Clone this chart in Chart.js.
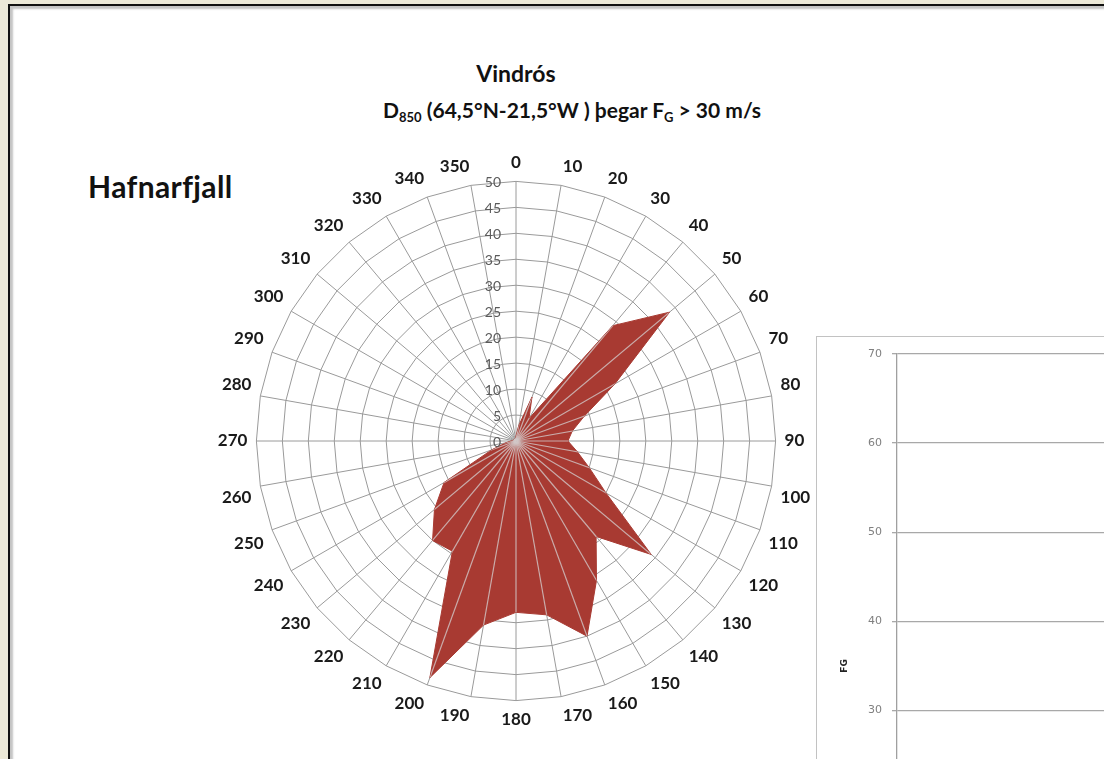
<!DOCTYPE html>
<html>
<head>
<meta charset="utf-8">
<script src="https://cdn.jsdelivr.net/npm/chart.js@4/dist/chart.umd.min.js"></script>
<style>
  html, body { margin: 0; padding: 0; }
  body { width: 1104px; height: 759px; overflow: hidden; background: #ece9d8; position: relative; font-family: Lato, sans-serif; }
  #frame { position: absolute; left: 8px; top: 4px; width: 1200px; height: 900px; background: #fff;
           border-left: 2px solid #111; border-top: 2px solid #111; box-shadow: inset 3px 3px 2px #c4c4c4; }
  .txt { position: absolute; color: #111; font-weight: bold; white-space: nowrap; }
  #title { left: 416px; width: 200px; top: 59px; text-align: center; font-size: 23px; }
  #subtitle { left: 383px; top: 97px; font-size: 21px; }
  #subtitle sub { font-size: 13px; vertical-align: -4px; }
  #station { left: 88px; top: 168px; font-size: 30px; letter-spacing: 0.4px; }
  #rose { position: absolute; left: 176px; top: 152px; }
  #gustBox { position: absolute; left: 816px; top: 336px; width: 400px; height: 700px; border: 1px solid #c2c2c2; border-right: none; border-bottom: none; }
  #gust { position: absolute; left: 0; top: 0; }
</style>
</head>
<body>
<div id="frame"></div>
<div class="txt" id="title">Vindrós</div>
<div class="txt" id="subtitle">D<sub>850</sub> (64,5°N-21,5°W ) þegar F<sub>G</sub> &gt; 30 m/s</div>
<div class="txt" id="station">Hafnarfjall</div>
<canvas id="rose" width="680" height="579"></canvas>
<div id="gustBox"><canvas id="gust" width="400" height="671"></canvas></div>
<script>
// wind directions (degrees) and frequency per sector
const directions = ['0', '10', '20', '30', '40', '50', '60', '70', '80', '90', '100', '110',
  '120', '130', '140', '150', '160', '170', '180', '190', '200', '210', '220', '230',
  '240', '250', '260', '270', '280', '290', '300', '310', '320', '330', '340', '350'];
const frequency = [1, 3, 9, 5, 29, 38.6, 22, 14, 11, 10, 12, 15,
  20, 34, 24, 31, 40, 34, 33, 36, 48.5, 24.5, 25, 20.5,
  16, 5, 2, 1, 0.5, 0.5, 0.5, 0.5, 0.5, 0.5, 0.5, 0.5];
const radialMax = 50;
const radialStep = 5;

// gust speed panel (y axis only)
const gustTicksMax = 70;
const gustTicksStep = 10;
const gustPoints = [];

Chart.defaults.font.family = 'Lato, sans-serif';

// light spokes drawn over the filled area
const spokeOverlay = {
  id: 'spokeOverlay',
  afterDatasetsDraw(chart) {
    const s = chart.scales.r;
    const pts = chart.getDatasetMeta(0).data;
    const ctx = chart.ctx;
    ctx.save();
    ctx.beginPath();
    pts.forEach((p, i) => i ? ctx.lineTo(p.x, p.y) : ctx.moveTo(p.x, p.y));
    ctx.closePath();
    ctx.clip();
    ctx.strokeStyle = 'rgba(210,200,200,0.8)';
    ctx.lineWidth = 1.2;
    pts.forEach((p, i) => {
      const end = s.getPointPosition(i, s.drawingArea);
      ctx.beginPath();
      ctx.moveTo(s.xCenter, s.yCenter);
      ctx.lineTo(end.x, end.y);
      ctx.stroke();
    });
    ctx.restore();
  }
};

// value labels sit left of the north spoke
const radialTickLabels = {
  id: 'radialTickLabels',
  afterDatasetsDraw(chart) {
    const s = chart.scales.r;
    const ctx = chart.ctx;
    ctx.save();
    ctx.font = '14px Lato, sans-serif';
    ctx.fillStyle = '#5a5a5a';
    ctx.textAlign = 'right';
    ctx.textBaseline = 'middle';
    s.ticks.forEach(t => {
      const y = s.yCenter - s.getDistanceFromCenterForValue(t.value);
      ctx.fillText(String(t.value), s.xCenter - 15, y + 1);
    });
    ctx.restore();
  }
};

new Chart(document.getElementById('rose'), {
  type: 'radar',
  data: {
    labels: directions,
    datasets: [{
      data: frequency,
      backgroundColor: '#a83a32',
      borderColor: '#a83a32',
      borderWidth: 1,
      pointRadius: 0,
      fill: true
    }]
  },
  options: {
    responsive: false,
    animation: false,
    devicePixelRatio: 1,
    plugins: { legend: { display: false }, tooltip: { enabled: false } },
    scales: {
      r: {
        min: 0,
        max: radialMax,
        ticks: { stepSize: radialStep, display: false },
        grid: { color: '#9a9a9a', lineWidth: 1, circular: false },
        angleLines: { color: '#9a9a9a', lineWidth: 1 },
        pointLabels: { color: '#1a1a1a', padding: 9, font: { size: 17, weight: 'bold' } }
      }
    }
  },
  plugins: [spokeOverlay, radialTickLabels]
});

new Chart(document.getElementById('gust'), {
  type: 'scatter',
  data: { datasets: [{ label: 'FG', data: gustPoints, pointRadius: 2, backgroundColor: '#4a6fa5' }] },
  options: {
    responsive: false,
    animation: false,
    devicePixelRatio: 1,
    layout: { padding: { left: 10, top: 17, right: 0, bottom: 0 } },
    plugins: { legend: { display: false }, tooltip: { enabled: false } },
    scales: {
      x: {
        type: 'linear', min: 0, max: 360,
        grid: { display: false },
        ticks: { display: false },
        afterFit: s => { s.height = 30; }
      },
      y: {
        min: 0,
        max: gustTicksMax,
        ticks: { stepSize: gustTicksStep, color: '#808080', padding: 10, font: { family: 'DejaVu Sans', size: 11 } },
        grid: { color: '#a8a8a8', tickLength: 5, lineWidth: 1.3 },
        border: { color: '#a0a0a0', width: 1.3 },
        title: { display: true, text: 'FG', color: '#222', padding: { top: 12 }, font: { family: 'DejaVu Sans', size: 9, weight: 'bold' } },
        afterFit: s => { s.width = 70; }
      }
    }
  }
});
</script>
</body>
</html>
